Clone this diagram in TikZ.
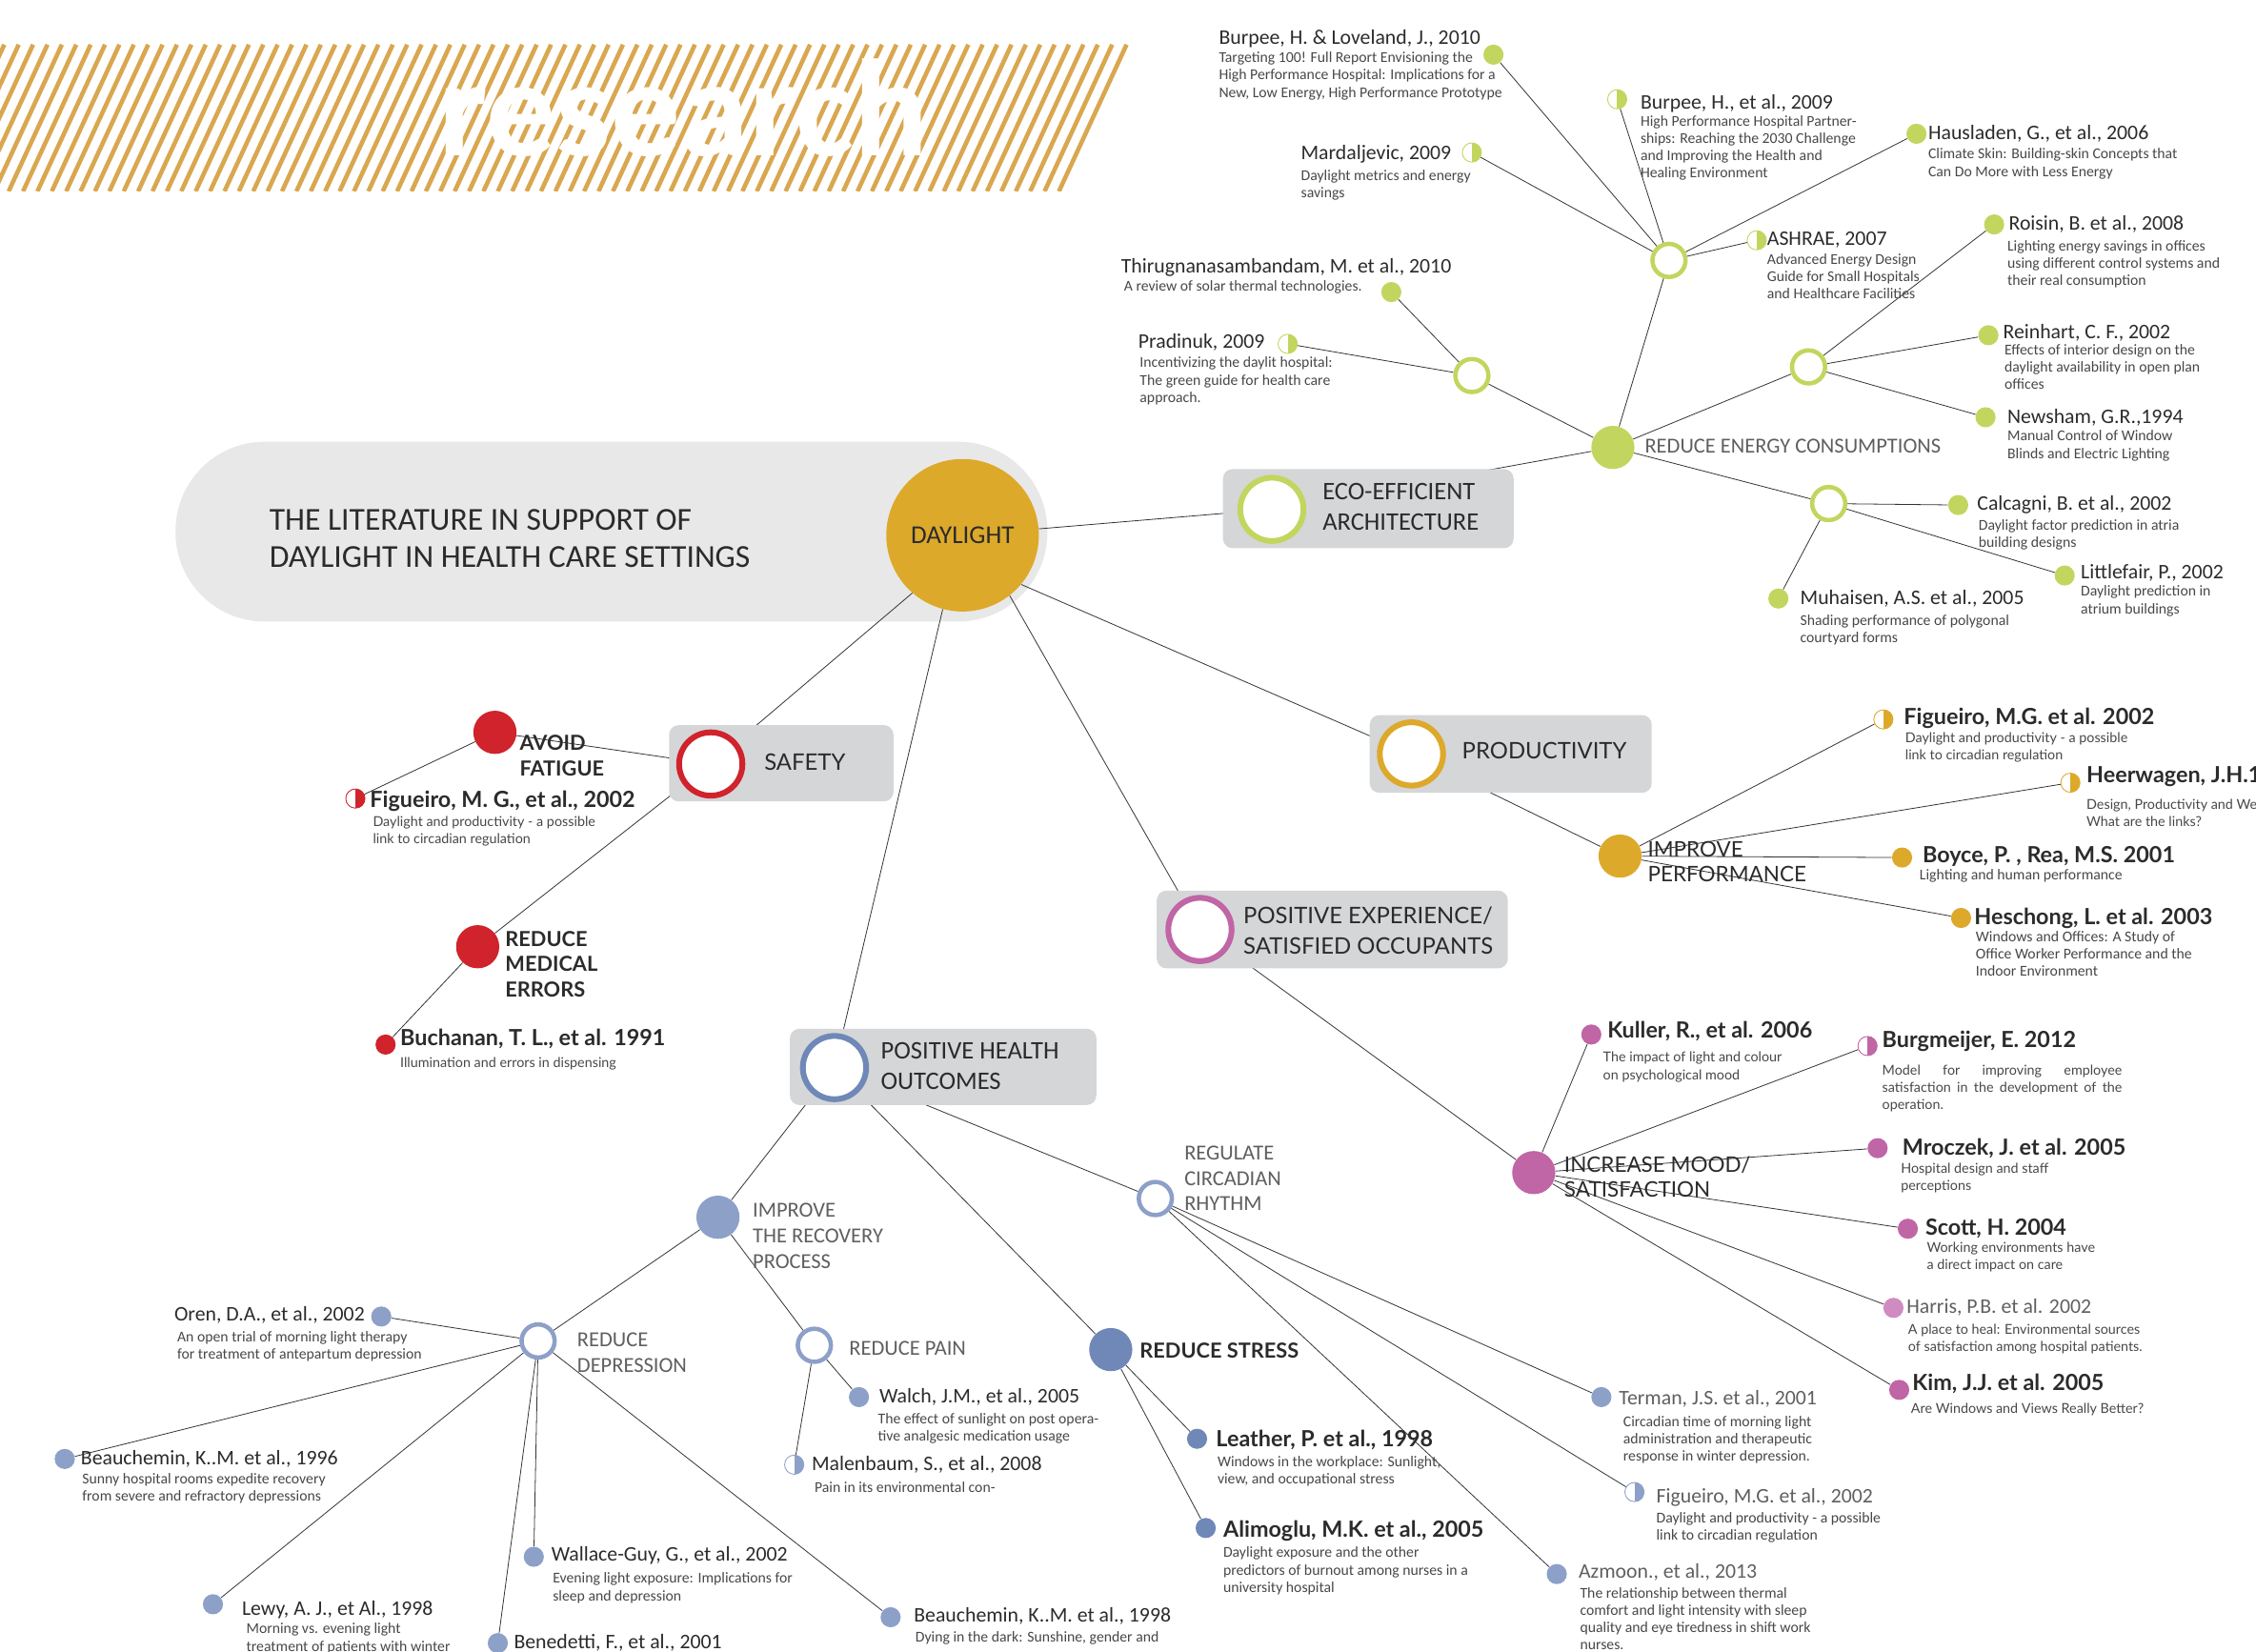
\documentclass[tikz,border=0pt]{standalone}
\usepackage{fontspec}
\setmainfont{Carlito}
\newfontfamily\latofont{Lato}
\definecolor{Y}{RGB}{221, 169, 43}
\definecolor{S}{RGB}{217, 167, 80}
\definecolor{G}{RGB}{194, 214, 95}
\definecolor{R}{RGB}{208, 35, 43}
\definecolor{M}{RGB}{192, 101, 166}
\definecolor{P}{RGB}{208, 139, 192}
\definecolor{B}{RGB}{140, 160, 200}
\definecolor{D}{RGB}{111, 136, 183}
\definecolor{BX}{RGB}{213, 214, 216}
\definecolor{PL}{RGB}{232, 232, 232}
\definecolor{T1}{RGB}{43, 43, 43}
\definecolor{T2}{RGB}{71, 71, 71}
\definecolor{T3}{RGB}{95, 95, 95}
\definecolor{L}{RGB}{51, 51, 51}
\pgfdeclarelayer{back}
\pgfdeclarelayer{links}
\pgfsetlayers{back,links,main}
\tikzset{
  link/.style={draw=L, line width=0.45pt},
  stripe/.style={draw=S, line width=2.6pt},
  cdot/.style={circle, fill=#1, inner sep=0pt, minimum size=0.42cm},
  hdot/.style={circle, draw=#1, fill=white, line width=0.5pt, inner sep=0pt, minimum size=0.4cm,
    path picture={\fill[#1] (path picture bounding box.north) rectangle (path picture bounding box.south east);}},
  sdot/.style={circle, fill=#1, inner sep=0pt, minimum size=0.9cm},
  hub/.style={circle, draw=#1, fill=white, line width=0.09cm, inner sep=0pt, minimum size=0.69cm},
  catring/.style={circle, draw=#1, fill=white, line width=0.12cm, inner sep=0pt, minimum size=1.32cm},
  catbox/.style={fill=BX, rounded corners=0.2cm},
  catlbl/.style={anchor=west, align=left, inner sep=0pt, text=T1, font=\fontsize{15}{18}\selectfont},
  latcat/.style={anchor=west, align=left, inner sep=0pt, text=T1, font=\latofont\fontsize{13.5}{18}\selectfont},
  sublbl/.style={anchor=west, align=left, inner sep=0pt, text=T3, font=\fontsize{12.7}{15}\selectfont},
  latsub/.style={anchor=west, align=left, inner sep=0pt, text=T1, font=\latofont\fontsize{12.7}{15}\selectfont},
  boldsub/.style={anchor=west, align=left, inner sep=0pt, text=T1, font=\latofont\bfseries\fontsize{12.3}{15}\selectfont},
  mttl/.style={anchor=west, inner sep=0pt, text=T1, font=\fontsize{12.3}{14}\selectfont},
  gttl/.style={anchor=west, inner sep=0pt, text=T3, font=\fontsize{12.3}{14}\selectfont},
  mdsc/.style={anchor=north west, align=left, inner sep=0pt, text=T2, font=\fontsize{8.9}{10.3}\selectfont},
  lttl/.style={anchor=west, inner sep=0pt, text=T1, font=\latofont\bfseries\fontsize{13.2}{15}\selectfont},
  ldsc/.style={anchor=north west, align=left, inner sep=0pt, text=T2, font=\latofont\fontsize{8.1}{10.3}\selectfont}
}
\begin{document}
\begin{tikzpicture}[x=0.03cm,y=-0.03cm]
\useasboundingbox (0,0) rectangle (1568,1148);

% banner and title
\begin{pgfonlayer}{back}
\begin{scope}
\clip (-60,31) rectangle (800,133);
\foreach \i in {-47,-37,...,783}
  \draw[stripe] (\i,31) -- ++(-47,102);
\end{scope}
\node[anchor=base west, inner sep=0pt, text=white, font=\bfseries\fontsize{82}{82}\selectfont] (banner) at (305,108) {research};
\fill[PL, rounded corners=1.86cm] (122,307) rectangle (728,432);
\node[anchor=west, align=left, inner sep=0pt, text=T1, font=\fontsize{19}{22}\selectfont] (title) at (187,374) {THE LITERATURE IN SUPPORT OF\\DAYLIGHT IN HEALTH CARE SETTINGS};
\end{pgfonlayer}

\node[circle, fill=Y, minimum size=3.18cm, inner sep=0pt, text=T1, font=\fontsize{15.3}{17}\selectfont] (daylight) at (669,372) {DAYLIGHT};

% categories
\fill[catbox] (850,326) rectangle (1052,381);
\node[catring=G] (eco) at (884,354) {};
\node[catlbl] (ecol) at (919,352) {ECO-EFFICIENT\\ARCHITECTURE};
\fill[catbox] (465,504) rectangle (621,557);
\node[catring=R] (safety) at (494,531) {};
\node[latcat] (safetyl) at (531,530) {SAFETY};
\fill[catbox] (952,497) rectangle (1148,551);
\node[catring=Y] (prod) at (981,524) {};
\node[latcat] (prodl) at (1016,522) {PRODUCTIVITY};
\fill[catbox] (804,619) rectangle (1048,673);
\node[catring=M] (posexp) at (834,646) {};
\node[latcat] (posexpl) at (864,647) {POSITIVE EXPERIENCE/\\SATISFIED OCCUPANTS};
\fill[catbox] (549,715) rectangle (762,768);
\node[catring=D] (health) at (580,742) {};
\node[catlbl] (healthl) at (612,741) {POSITIVE HEALTH\\OUTCOMES};

% eco-efficient architecture
\node[sdot=G] (energy) at (1121,311) {};
\node[sublbl] (energyl) at (1143,310) {REDUCE ENERGY CONSUMPTIONS};
\node[hub=G] (hubA) at (1160,181) {};
\node[hub=G] (hubB) at (1023,261) {};
\node[hub=G] (hubC) at (1257,255) {};
\node[hub=G] (hubD) at (1271,350) {};
\node[cdot=G] (burpA) at (1038,38) {};
\node[mttl] (burpAt) at (847,27) {Burpee, H. \& Loveland, J., 2010};
\node[mdsc] (burpAd) at (847,36) {Targeting 100! Full Report Envisioning the\\High Performance Hospital: Implications for a\\New, Low Energy, High Performance Prototype};
\node[hdot=G] (burpB) at (1124,69) {};
\node[mttl] (burpBt) at (1140,72) {Burpee, H., et al., 2009};
\node[mdsc] (burpBd) at (1140,80) {High Performance Hospital Partner-\\ships: Reaching the 2030 Challenge\\and Improving the Health and\\Healing Environment};
\node[hdot=G] (mard) at (1023,106) {};
\node[mttl] (mardt) at (904,107) {Mardaljevic, 2009};
\node[mdsc] (mardd) at (904,118) {Daylight metrics and energy\\savings};
\node[cdot=G] (haus) at (1332,93) {};
\node[mttl] (haust) at (1340,93) {Hausladen, G., et al., 2006};
\node[mdsc] (hausd) at (1340,103) {Climate Skin: Building-skin Concepts that\\Can Do More with Less Energy};
\node[hdot=G] (ashrae) at (1221,167) {};
\node[mttl] (ashraet) at (1228,167) {ASHRAE, 2007};
\node[mdsc] (ashraed) at (1228,176) {Advanced Energy Design\\Guide for Small Hospitals\\and Healthcare Facilities};
\node[cdot=G] (thir) at (967,203) {};
\node[mttl] (thirt) at (779,186) {Thirugnanasambandam, M. et al., 2010};
\node[mdsc] (third) at (781,195) {A review of solar thermal technologies.};
\node[hdot=G] (prad) at (895,239) {};
\node[mttl] (pradt) at (791,238) {Pradinuk, 2009};
\node[mdsc] (pradd) at (792,248) {Incentivizing the daylit hospital:\\The green guide for health care\\approach.};
\node[cdot=G] (rois) at (1386,156) {};
\node[mttl] (roist) at (1396,156) {Roisin, B. et al., 2008};
\node[mdsc] (roisd) at (1395,167) {Lighting energy savings in offices\\using different control systems and\\their real consumption};
\node[cdot=G] (rein) at (1382,233) {};
\node[mttl] (reint) at (1392,231) {Reinhart, C. F., 2002};
\node[mdsc] (reind) at (1393,239) {Effects of interior design on the\\daylight availability in open plan\\offices};
\node[cdot=G] (news) at (1380,290) {};
\node[mttl] (newst) at (1395,290) {Newsham, G.R.,1994};
\node[mdsc] (newsd) at (1395,299) {Manual Control of Window\\Blinds and Electric Lighting};
\node[cdot=G] (calc) at (1361,351) {};
\node[mttl] (calct) at (1374,351) {Calcagni, B. et al., 2002};
\node[mdsc] (calcd) at (1375,361) {Daylight factor prediction in atria\\building designs};
\node[cdot=G] (litt) at (1435,400) {};
\node[mttl] (littt) at (1446,398) {Littlefair, P., 2002};
\node[mdsc] (littd) at (1446,407) {Daylight prediction in\\atrium buildings};
\node[cdot=G] (muha) at (1236,416) {};
\node[mttl] (muhat) at (1251,416) {Muhaisen, A.S. et al., 2005};
\node[mdsc] (muhad) at (1251,427) {Shading performance of polygonal\\courtyard forms};

% safety
\node[sdot=R] (fatigue) at (344,509) {};
\node[boldsub] (fatiguel) at (361,525) {AVOID\\FATIGUE};
\node[hdot=R] (figR) at (247,555) {};
\node[lttl] (figRt) at (257,557) {Figueiro, M. G., et al., 2002};
\node[ldsc] (figRd) at (259,567) {Daylight and productivity - a possible\\link to circadian regulation};
\node[sdot=R] (errors) at (332,658) {};
\node[boldsub] (errorsl) at (351,670) {REDUCE\\MEDICAL\\ERRORS};
\node[cdot=R] (buch) at (268,726) {};
\node[lttl] (bucht) at (278,722) {Buchanan, T. L., et al. 1991};
\node[ldsc] (buchd) at (278,735) {Illumination and errors in dispensing};

% productivity
\node[sdot=Y] (perf) at (1126,595) {};
\node[latsub] (perfl) at (1145,599) {IMPROVE\\PERFORMANCE};
\node[hdot=Y] (figY) at (1309,500) {};
\node[lttl] (figYt) at (1323,499) {Figueiro, M.G. et al. 2002};
\node[ldsc] (figYd) at (1324,509) {Daylight and productivity - a possible\\link to circadian regulation};
\node[hdot=Y] (heer) at (1439,544) {};
\node[lttl] (heert) at (1450,540) {Heerwagen, J.H.1998};
\node[ldsc] (heerd) at (1450,555) {Design, Productivity and Well-being:\\What are the links?};
\node[cdot=Y] (boyce) at (1322,596) {};
\node[lttl] (boycet) at (1336,595) {Boyce, P. , Rea, M.S. 2001};
\node[mdsc] (boyced) at (1334,604) {Lighting and human performance};
\node[cdot=Y] (hesch) at (1363,638) {};
\node[lttl] (hescht) at (1372,638) {Heschong, L. et al. 2003};
\node[mdsc] (heschd) at (1373,647) {Windows and Offices: A Study of\\Office Worker Performance and the\\Indoor Environment};

% positive experience
\node[sdot=M] (mood) at (1066,815) {};
\node[latsub] (moodl) at (1087,818) {INCREASE MOOD/\\SATISFACTION};
\node[cdot=M] (kull) at (1106,719) {};
\node[lttl] (kullt) at (1117,717) {Kuller, R., et al. 2006};
\node[ldsc] (kulld) at (1114,731) {The impact of light and colour\\on psychological mood};
\node[hdot=M] (burg) at (1298,727) {};
\node[lttl] (burgt) at (1308,724) {Burgmeijer, E. 2012};
\node[ldsc, text width=5cm, align=justify] (burgd) at (1308,740) {Model for improving employee\linebreak satisfaction in the development of the\linebreak operation.};
\node[cdot=M] (mroc) at (1305,798) {};
\node[lttl] (mroct) at (1322,798) {Mroczek, J. et al. 2005};
\node[ldsc] (mrocd) at (1321,808) {Hospital design and staff\\perceptions};
\node[cdot=M] (scott) at (1326,854) {};
\node[lttl] (scottt) at (1338,854) {Scott, H. 2004};
\node[ldsc] (scottd) at (1339,863) {Working environments have\\a direct impact on care};
\node[cdot=P] (harr) at (1316,909) {};
\node[gttl] (harrt) at (1325,909) {Harris, P.B. et al. 2002};
\node[ldsc] (harrd) at (1326,920) {A place to heal: Environmental sources\\of satisfaction among hospital patients.};
\node[cdot=M] (kim) at (1320,966) {};
\node[lttl] (kimt) at (1329,962) {Kim, J.J. et al. 2005};
\node[ldsc] (kimd) at (1328,975) {Are Windows and Views Really Better?};

% positive health outcomes
\node[sdot=B] (recov) at (499,846) {};
\node[sublbl] (recovl) at (523,859) {IMPROVE\\THE RECOVERY\\PROCESS};
\node[hub=B] (depr) at (374,932) {};
\node[sublbl] (deprl) at (401,940) {REDUCE\\DEPRESSION};
\node[hub=B] (pain) at (566,935) {};
\node[sublbl] (painl) at (590,937) {REDUCE PAIN};
\node[sdot=D] (stress) at (772,938) {};
\node[boldsub] (stressl) at (792,939) {REDUCE STRESS};
\node[hub=B] (circ) at (803,833) {};
\node[sublbl] (circl) at (823,819) {REGULATE\\CIRCADIAN\\RHYTHM};
\node[cdot=B] (oren) at (265,915) {};
\node[mttl] (orent) at (121,914) {Oren, D.A., et al., 2002};
\node[mdsc] (orend) at (123,925) {An open trial of morning light therapy\\for treatment of antepartum depression};
\node[cdot=B] (beauA) at (45,1014) {};
\node[mttl] (beauAt) at (56,1014) {Beauchemin, K..M. et al., 1996};
\node[mdsc] (beauAd) at (57,1024) {Sunny hospital rooms expedite recovery\\from severe and refractory depressions};
\node[cdot=B] (lewy) at (148,1115) {};
\node[mttl] (lewyt) at (168,1119) {Lewy, A. J., et Al., 1998};
\node[mdsc] (lewyd) at (171,1128) {Morning vs. evening light\\treatment of patients with winter};
\node[cdot=B] (wall) at (371,1082) {};
\node[mttl] (wallt) at (383,1081) {Wallace-Guy, G., et al., 2002};
\node[mdsc] (walld) at (384,1093) {Evening light exposure: Implications for\\sleep and depression};
\node[cdot=B] (bene) at (346,1142) {};
\node[mttl] (benet) at (357,1142) {Benedetti, F., et al., 2001};
\node[cdot=B] (beauB) at (619,1124) {};
\node[mttl] (beauBt) at (635,1123) {Beauchemin, K..M. et al., 1998};
\node[mdsc] (beauBd) at (636,1134) {Dying in the dark: Sunshine, gender and};
\node[cdot=B] (walch) at (597,971) {};
\node[mttl] (walcht) at (611,971) {Walch, J.M., et al., 2005};
\node[mdsc] (walchd) at (610,982) {The effect of sunlight on post opera-\\tive analgesic medication usage};
\node[hdot=B] (malen) at (552,1018) {};
\node[mttl] (malent) at (564,1018) {Malenbaum, S., et al., 2008};
\node[mdsc] (malend) at (566,1030) {Pain in its environmental con-};
\node[cdot=D] (leath) at (832,1000) {};
\node[lttl] (leatht) at (845,1001) {Leather, P. et al., 1998};
\node[mdsc] (leathd) at (846,1012) {Windows in the workplace: Sunlight,\\view, and occupational stress};
\node[cdot=D] (alim) at (838,1062) {};
\node[lttl] (alimt) at (850,1064) {Alimoglu, M.K. et al., 2005};
\node[mdsc] (alimd) at (850,1075) {Daylight exposure and the other\\predictors of burnout among nurses in a\\university hospital};
\node[cdot=B] (term) at (1113,971) {};
\node[gttl] (termt) at (1125,972) {Terman, J.S. et al., 2001};
\node[mdsc] (termd) at (1128,984) {Circadian time of morning light\\administration and therapeutic\\response in winter depression.};
\node[hdot=B] (figB) at (1136,1037) {};
\node[gttl] (figBt) at (1151,1041) {Figueiro, M.G. et al., 2002};
\node[mdsc] (figBd) at (1151,1051) {Daylight and productivity - a possible\\link to circadian regulation};
\node[cdot=B] (azm) at (1082,1094) {};
\node[gttl] (azmt) at (1097,1093) {Azmoon., et al., 2013};
\node[mdsc] (azmd) at (1098,1103) {The relationship between thermal\\comfort and light intensity with sleep\\quality and eye tiredness in shift work\\nurses.};

% connectors
\begin{pgfonlayer}{links}
\draw[link] (daylight) -- (eco) (daylight.229) -- (safety) (daylight.-40) -- (prod)
  (daylight.-52) -- (posexp) (daylight.255) -- (health);
\draw[link] (eco) -- (energy) (energy) -- (hubA) (energy) -- (hubB) (energy) -- (hubC) (energy) -- (hubD);
\draw[link] (hubA) -- (burpA) (hubA) -- (burpB) (hubA) -- (mard) (hubA) -- (haus) (hubA) -- (ashrae);
\draw[link] (hubB) -- (thir) (hubB) -- (prad);
\draw[link] (hubC) -- (rois) (hubC) -- (rein) (hubC) -- (news);
\draw[link] (hubD) -- (calc) (hubD) -- (litt) (hubD) -- (muha);
\draw[link] (safety) -- (fatigue) (fatigue) -- (figR) (safety) -- (errors) (errors) -- (buch);
\draw[link] (prod) -- (perf) (perf) -- (figY) (perf) -- (heer) (perf) -- (boyce) (perf) -- (hesch);
\draw[link] (posexp) -- (mood) (mood) -- (kull) (mood) -- (burg) (mood) -- (mroc)
  (mood) -- (scott) (mood) -- (harr) (mood) -- (kim);
\draw[link] (health) -- (recov) (health) -- (stress) (health) -- (circ)
  (recov) -- (depr) (recov) -- (pain);
\draw[link] (depr) -- (oren) (depr) -- (beauA) (depr) -- (lewy) (depr) -- (wall)
  (depr) -- (bene) (depr) -- (beauB);
\draw[link] (pain) -- (walch) (pain) -- (malen);
\draw[link] (stress) -- (leath) (stress) -- (alim);
\draw[link] (circ) -- (term) (circ) -- (figB) (circ) -- (azm);
\end{pgfonlayer}
\end{tikzpicture}
\end{document}
